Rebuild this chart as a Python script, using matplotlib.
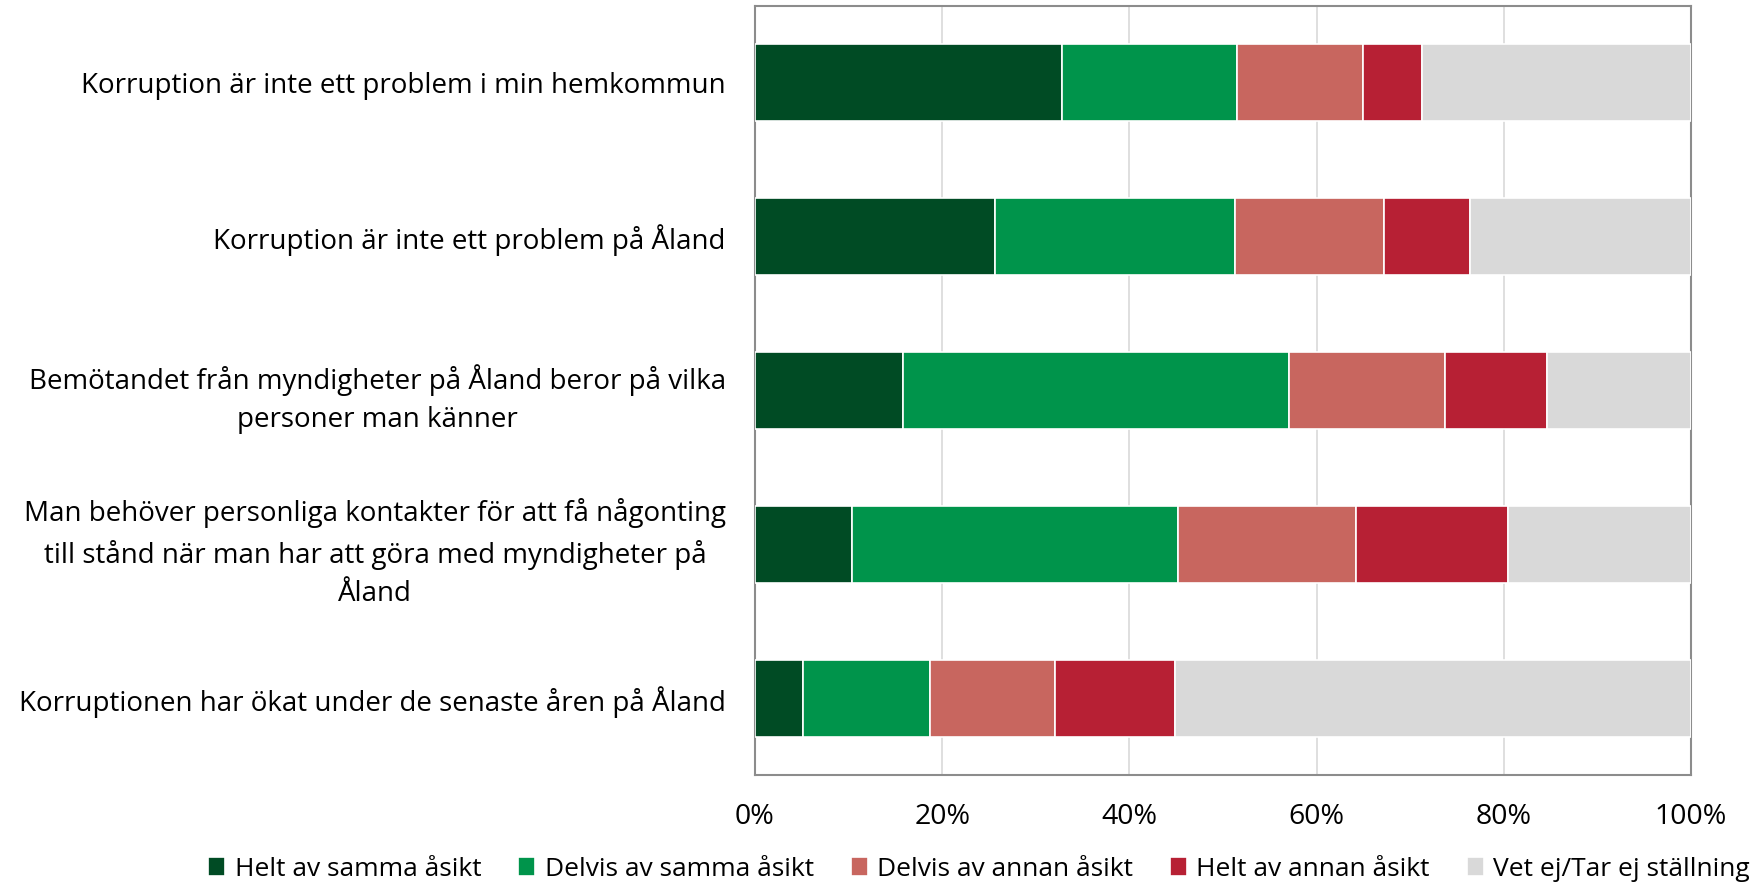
import matplotlib
matplotlib.use("Agg")
import matplotlib.pyplot as plt
import numpy as np

categories = [
    "Korruption är inte ett problem i min hemkommun",
    "Korruption är inte ett problem på Åland",
    "Bemötandet från myndigheter på Åland beror på vilka\npersoner man känner",
    "Man behöver personliga kontakter för att få någonting\ntill stånd när man har att göra med myndigheter på\nÅland",
    "Korruptionen har ökat under de senaste åren på Åland",
]
series_names = ["Helt av samma åsikt", "Delvis av samma åsikt", "Delvis av annan åsikt",
                "Helt av annan åsikt", "Vet ej/Tar ej ställning"]
helt_samma = [32.8, 25.6, 15.8, 10.4, 5.1]
delvis_samma = [18.7, 25.7, 41.3, 34.8, 13.6]
delvis_annan = [13.5, 15.9, 16.6, 19.0, 13.3]
helt_annan = [6.3, 9.2, 10.9, 16.3, 12.9]
vet_ej = [28.7, 23.6, 15.4, 19.5, 55.1]
tick_labels = ["0%", "20%", "40%", "60%", "80%", "100%"]

colors = ["#004B24", "#00944B", "#C8665F", "#B72034", "#D9D9D9"]

plt.rcParams['font.family'] = ['Open Sans', 'DejaVu Sans']

fig = plt.figure(figsize=(17.61, 8.84), dpi=100)
ax = fig.add_axes([755/1761, 1 - 775/884, (1691-755)/1761, (775-6)/884])

data = [helt_samma, delvis_samma, delvis_annan, helt_annan, vet_ej]
y = np.arange(len(categories))
left = np.zeros(len(categories))
handles = []
for vals, col, name in zip(data, colors, series_names):
    vals = np.array(vals)
    b = ax.barh(y, vals, left=left, height=0.5, color=col, edgecolor="white",
                linewidth=1.2, label=name, zorder=3)
    handles.append(b)
    left += vals

ax.set_xlim(0, 100)
ax.set_ylim(len(categories) - 0.5, -0.5)
ax.set_xticks(np.arange(0, 101, 20))
ax.set_xticklabels(tick_labels, fontsize=20.5)
ax.set_yticks(y)
ax.set_yticklabels(categories, fontsize=20, multialignment="center", linespacing=1.5)
ax.tick_params(axis="both", length=0)
ax.tick_params(axis="x", pad=20)
ax.tick_params(axis="y", pad=21)
ax.grid(axis="x", color="#D9D9D9", linewidth=1.2, zorder=0)
for s in ax.spines.values():
    s.set_color("#8C8C8C")
    s.set_linewidth(1.5)

fig.legend(handles=handles, labels=series_names, loc="center", ncol=5,
           bbox_to_anchor=(979/1761, 1 - 869/884), frameon=False, fontsize=19,
           handlelength=0.65, handleheight=0.7, handletextpad=0.35, columnspacing=1.4)

fig.savefig("out.png", dpi=100)
